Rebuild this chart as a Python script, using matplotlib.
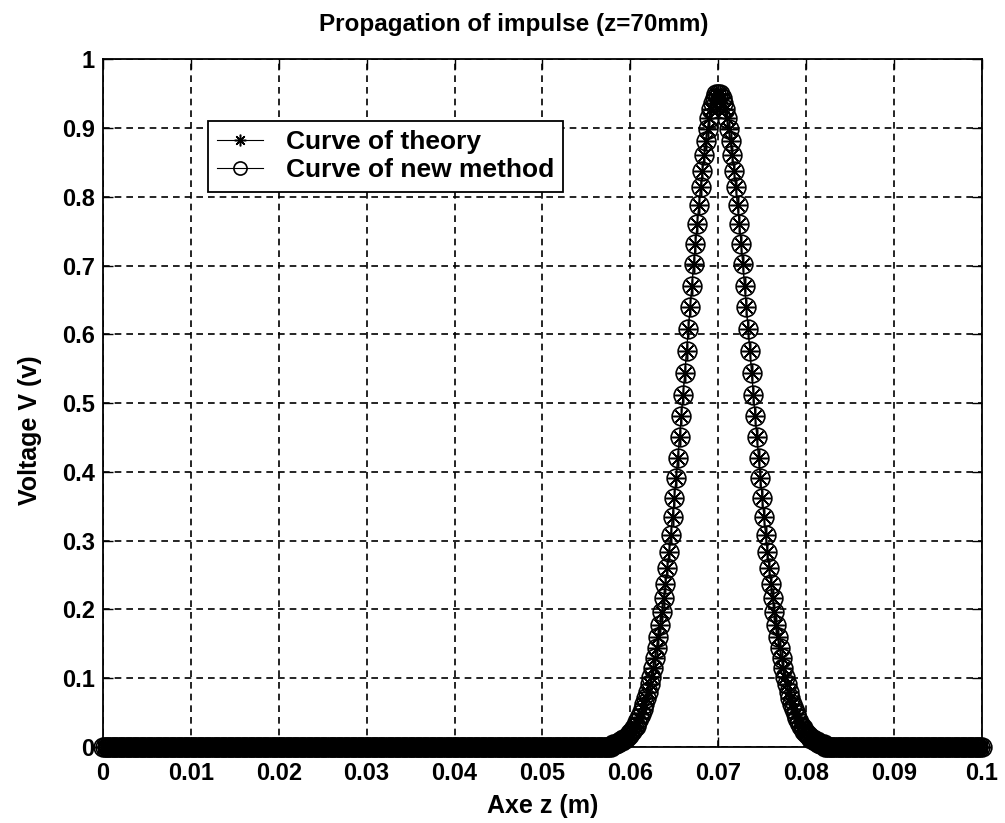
import numpy as np
import matplotlib
matplotlib.use("Agg")
import matplotlib.pyplot as plt
from matplotlib.ticker import FuncFormatter

plt.rcParams['font.family'] = ['Liberation Sans', 'DejaVu Sans']
plt.rcParams['font.weight'] = 'bold'

# sample grid along z (m), step 0.2 mm
z = np.arange(501) * 0.0002

# pulse part, z = 0.058 ... 0.082
pulse = [0.004, 0.004, 0.005, 0.006, 0.008, 0.009, 0.011, 0.012, 0.015, 0.017,
         0.020, 0.023, 0.027, 0.031, 0.036, 0.042, 0.048, 0.055, 0.062, 0.071,
         0.080, 0.091, 0.102, 0.115, 0.129, 0.144, 0.160, 0.177, 0.196, 0.216,
         0.237, 0.260, 0.283, 0.308, 0.335, 0.362, 0.391, 0.420, 0.450, 0.481,
         0.512, 0.544, 0.576, 0.608, 0.640, 0.671, 0.702, 0.732, 0.761, 0.788,
         0.814, 0.838, 0.861, 0.881, 0.899, 0.914, 0.927, 0.937, 0.944, 0.949,
         0.950,
         0.949, 0.944, 0.937, 0.927, 0.914, 0.899, 0.881, 0.861, 0.838, 0.814,
         0.788, 0.761, 0.732, 0.702, 0.671, 0.640, 0.608, 0.576, 0.544, 0.512,
         0.481, 0.450, 0.420, 0.391, 0.362, 0.335, 0.308, 0.283, 0.260, 0.237,
         0.216, 0.196, 0.177, 0.160, 0.144, 0.129, 0.115, 0.102, 0.091, 0.080,
         0.071, 0.062, 0.055, 0.048, 0.042, 0.036, 0.031, 0.027, 0.023, 0.020,
         0.017, 0.015, 0.012, 0.011, 0.009, 0.008, 0.006, 0.005, 0.004, 0.004]

v_theory = np.concatenate([np.zeros(290), pulse, np.zeros(90)])
v_new = np.concatenate([np.zeros(290), pulse, np.zeros(90)])

xticks = [0, 0.01, 0.02, 0.03, 0.04, 0.05, 0.06, 0.07, 0.08, 0.09, 0.1]
yticks = [0, 0.1, 0.2, 0.3, 0.4, 0.5, 0.6, 0.7, 0.8, 0.9, 1]

fig = plt.figure(figsize=(10.05, 8.23), dpi=100)
ax = fig.add_axes([0.1025, 0.0924, 0.8745, 0.8356])

ax.plot(z, v_theory, color='black', lw=0.8, marker=(8, 2, 0), ms=12,
        mew=1.1, label='Curve of theory', clip_on=False, zorder=3)
ax.plot(z, v_new, color='black', lw=0.8, marker='o', ms=13.5, mfc='none',
        mew=1.2, label='Curve of new method', clip_on=False, zorder=3)

ax.set_xlim(0, 0.1)
ax.set_ylim(0, 1)
ax.set_xticks(xticks)
ax.set_yticks(yticks)
fmt = FuncFormatter(lambda v, p: '%g' % round(v, 3))
ax.xaxis.set_major_formatter(fmt)
ax.yaxis.set_major_formatter(fmt)
ax.tick_params(direction='in', length=7, width=1, top=True, right=True,
               labelsize=17)
ax.tick_params(axis='x', pad=11)
ax.tick_params(axis='y', pad=6)
ax.grid(True, color='black', linestyle=(0, (4, 3)), linewidth=1.2)
for s in ax.spines.values():
    s.set_linewidth(1.3)

ax.set_title('Propagation of impulse (z=70mm)', fontsize=17.5, fontweight='bold',
             x=0.4676, pad=20)
ax.set_xlabel('Axe z (m)', fontsize=18, fontweight='bold', labelpad=6)
ax.set_ylabel('Voltage V (v)', fontsize=18, fontweight='bold')
ax.yaxis.set_label_coords(-0.069, 0.46)

leg = ax.legend(loc='upper left', bbox_to_anchor=(0.1195, 0.91), borderaxespad=0,
                fontsize=19, frameon=True, fancybox=False, edgecolor='black',
                framealpha=1, markerscale=0.7, handlelength=1.75,
                handletextpad=0.85, borderpad=0.35, labelspacing=0.15)
leg.get_frame().set_linewidth(1.3)

fig.savefig('out.png', dpi=100)
